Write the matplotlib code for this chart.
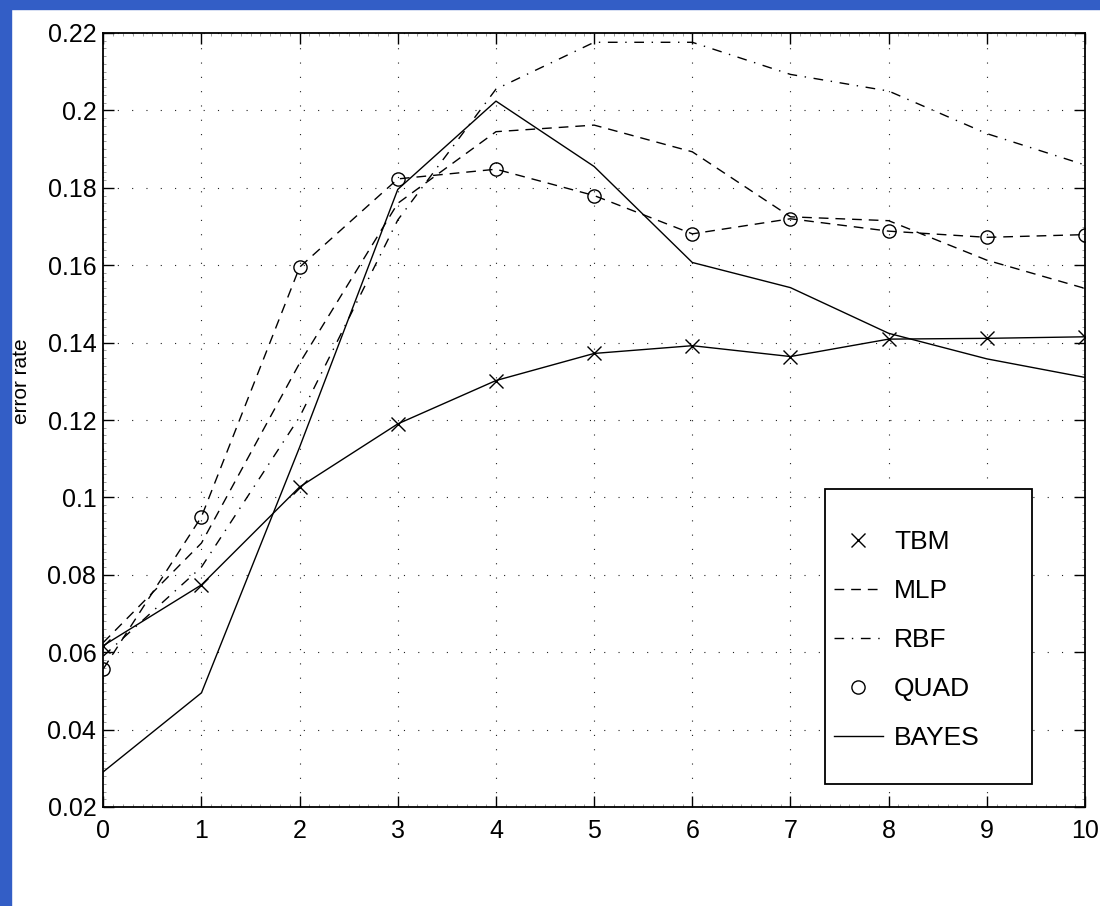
import matplotlib
matplotlib.use("Agg")
import matplotlib.pyplot as plt
from matplotlib.patches import Rectangle
from matplotlib.ticker import MultipleLocator
from matplotlib.lines import Line2D

plt.rcParams['font.family'] = ['Liberation Sans', 'DejaVu Sans']
plt.rcParams['lines.scale_dashes'] = False

x = [0, 1, 2, 3, 4, 5, 6, 7, 8, 9, 10]
tbm = [0.0617, 0.0774, 0.1027, 0.1190, 0.1302, 0.1372, 0.1392, 0.1364, 0.1409, 0.1411, 0.1415]
mlp = [0.0625, 0.0882, 0.1347, 0.1760, 0.1945, 0.1962, 0.1893, 0.1725, 0.1715, 0.1613, 0.1540]
rbf = [0.0590, 0.0820, 0.1208, 0.1717, 0.2055, 0.2176, 0.2176, 0.2093, 0.2050, 0.1940, 0.1859]
quad = [0.0557, 0.0950, 0.1595, 0.1823, 0.1848, 0.1780, 0.1681, 0.1720, 0.1688, 0.1672, 0.1679]
bayes = [0.0291, 0.0495, 0.1130, 0.1796, 0.2024, 0.1855, 0.1607, 0.1542, 0.1424, 0.1358, 0.1310]
labels = ['TBM', 'MLP', 'RBF', 'QUAD', 'BAYES']
xticks = [0, 1, 2, 3, 4, 5, 6, 7, 8, 9, 10]
yticks = [0.02, 0.04, 0.06, 0.08, 0.1, 0.12, 0.14, 0.16, 0.18, 0.2, 0.22]
ylabel = 'error rate'

fig = plt.figure(figsize=(11.0, 9.06), dpi=100)
fig.patch.set_facecolor('white')
blue = '#335ec6'
fig.patches.append(Rectangle((0, 0), 11/1100, 1, transform=fig.transFigure, color=blue, zorder=-5))
fig.patches.append(Rectangle((0, 1 - 9/906), 1, 9/906, transform=fig.transFigure, color=blue, zorder=-5))

ax = fig.add_axes([103.3/1100, 1 - 807/906, (1085-103.3)/1100, (807-33)/906])
lw = 1.0
ax.plot(x, tbm, color='black', lw=lw, marker='x', ms=10, mew=1.0)
ax.plot(x, mlp, color='black', lw=lw, dashes=(7, 5))
ax.plot(x, rbf, color='black', lw=lw, dashes=(7, 5.5, 1, 5.5))
ax.plot(x, quad, color='black', lw=lw, dashes=(7, 5), marker='o', ms=9.5, mfc='none', mew=1.0)
ax.plot(x, bayes, color='black', lw=lw)

ax.set_xlim(0, 10)
ax.set_ylim(0.02, 0.22)
ax.set_xticks(xticks)
ax.set_xticklabels([str(t) for t in xticks])
ax.set_yticks(yticks)
ax.set_yticklabels(['%g' % t for t in yticks])
ax.xaxis.set_minor_locator(MultipleLocator(0.1))
ax.yaxis.set_minor_locator(MultipleLocator(0.002))
ax.tick_params(which='major', direction='in', length=8, width=1.0, labelsize=18,
               top=True, right=True, colors='black')
ax.tick_params(axis='x', which='major', pad=9)
ax.tick_params(axis='y', which='major', pad=5)
ax.tick_params(which='minor', direction='in', length=2.2, width=0.5, top=True, right=True,
               color='#777777')
for s in ax.spines.values():
    s.set_linewidth(1.3)
    s.set_color('black')

ax.grid(True, which='major', color='#222222', lw=0.8, linestyle=(0, (0.8, 9.5)))
ax.set_axisbelow(True)

ax.set_ylabel(ylabel, fontsize=15)
ax.yaxis.set_label_coords(-0.074, 0.55)

# legend frame drawn as a rectangle (MATLAB style box), entries placed inside
x0p, x1p = 825, 1032
y0p, y1p = 489, 784
def fx(px):
    return (px - 103.3) / (1085 - 103.3)
def fy(py):
    return (807 - py) / (807 - 33)
ax.add_patch(Rectangle((fx(x0p), fy(y1p)), fx(x1p) - fx(x0p), fy(y0p) - fy(y1p),
                       transform=ax.transAxes, facecolor='white', edgecolor='black',
                       lw=1.3, zorder=5))
handles = [
    Line2D([], [], color='black', lw=0, marker='x', ms=10, mew=1.0),
    Line2D([], [], color='black', lw=lw, dashes=(7, 5)),
    Line2D([], [], color='black', lw=lw, dashes=(7, 5.5, 1, 5.5)),
    Line2D([], [], color='black', lw=0, marker='o', ms=9.5, mfc='none', mew=1.0),
    Line2D([], [], color='black', lw=lw),
]
leg = ax.legend(handles, labels, loc='upper left', bbox_to_anchor=(fx(834), fy(530)),
                frameon=False, fontsize=19, handlelength=1.85, handletextpad=0.42,
                labelspacing=0.95, borderpad=0, borderaxespad=0)
leg.set_zorder(6)

fig.savefig('out.png', dpi=100, facecolor='white')
